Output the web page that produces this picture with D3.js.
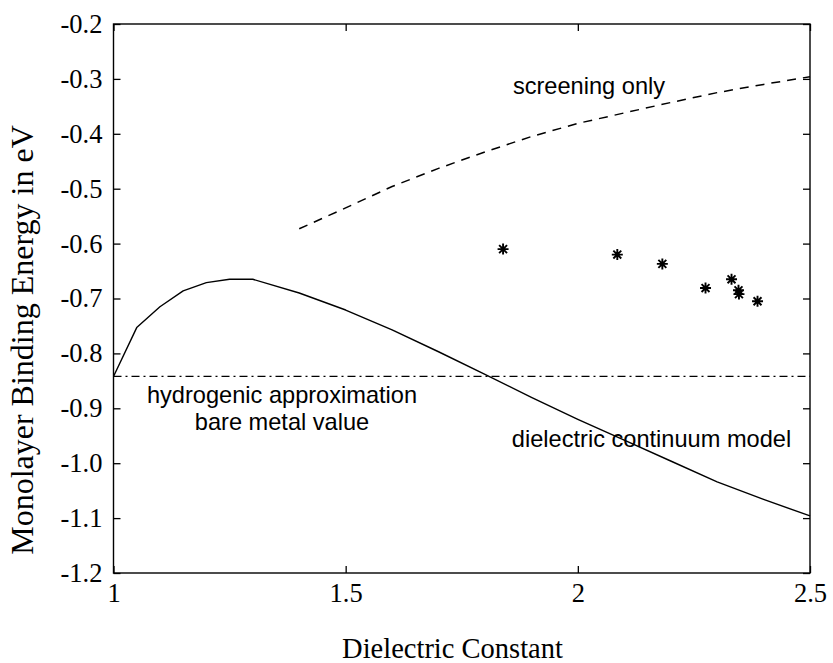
<!DOCTYPE html>
<html>
<head>
<meta charset="utf-8">
<script src="https://cdn.jsdelivr.net/npm/d3@7"></script>
<style>
  html, body { margin: 0; padding: 0; background: #fff; }
  svg { display: block; }
</style>
</head>
<body>
<svg id="chart" width="833" height="663"></svg>
<script>
// Dielectric continuum model (solid curve)
const continuumX = [1.0, 1.05, 1.1, 1.15, 1.2, 1.25, 1.3, 1.4, 1.5, 1.6, 1.7, 1.8, 1.9, 2.0, 2.1, 2.2, 2.3, 2.4, 2.5];
const continuumY = [-0.842, -0.753, -0.715, -0.686, -0.671, -0.665, -0.665, -0.690, -0.721, -0.757, -0.797, -0.838, -0.880, -0.920, -0.958, -0.996, -1.034, -1.066, -1.096];

// Screening only (dashed curve)
const screeningX = [1.4, 1.5, 1.6, 1.7, 1.8, 1.9, 2.0, 2.1, 2.2, 2.3, 2.4, 2.5];
const screeningY = [-0.573, -0.535, -0.496, -0.463, -0.433, -0.405, -0.381, -0.362, -0.343, -0.325, -0.310, -0.296];

// Hydrogenic approximation, bare metal value (dash-dot line)
const bareMetalValue = -0.842;

// Measured monolayer binding energies (stars)
const measuredX = [1.839, 2.085, 2.182, 2.275, 2.331, 2.346, 2.347, 2.387];
const measuredY = [-0.610, -0.620, -0.637, -0.681, -0.665, -0.685, -0.692, -0.705];

// Axis ticks
const xTicks = [1, 1.5, 2, 2.5];
const xTickLabels = ["1", "1.5", "2", "2.5"];
const yTicks = [-0.2, -0.3, -0.4, -0.5, -0.6, -0.7, -0.8, -0.9, -1.0, -1.1, -1.2];
const yTickLabels = ["-0.2", "-0.3", "-0.4", "-0.5", "-0.6", "-0.7", "-0.8", "-0.9", "-1.0", "-1.1", "-1.2"];

const svg = d3.select("#chart");
const plotLeft = 113.5, plotRight = 810, plotTop = 24, plotBottom = 573;

const x = d3.scaleLinear().domain([1, 2.5]).range([plotLeft, plotRight]);
const y = d3.scaleLinear().domain([-1.2, -0.2]).range([plotBottom, plotTop]);

const serif = "'Liberation Serif', 'Times New Roman', Times, serif";
const sans = "'Liberation Sans', Arial, Helvetica, sans-serif";
const tickLen = 7;

// Axes with inward ticks on all four sides
const xAxisB = d3.axisBottom(x).tickValues(xTicks)
  .tickFormat((d, i) => xTickLabels[i]).tickSizeInner(-tickLen).tickSizeOuter(0).tickPadding(10.5);
const xAxisT = d3.axisTop(x).tickValues(xTicks).tickFormat("").tickSizeInner(-tickLen).tickSizeOuter(0);
const yAxisL = d3.axisLeft(y).tickValues(yTicks)
  .tickFormat((d, i) => yTickLabels[i]).tickSizeInner(-tickLen).tickSizeOuter(0).tickPadding(11);
const yAxisR = d3.axisRight(y).tickValues(yTicks).tickFormat("").tickSizeInner(-tickLen).tickSizeOuter(0);

function styleAxis(g) {
  g.select(".domain").remove();
  g.selectAll(".tick line").attr("stroke", "#000").attr("stroke-width", 1.3);
  g.selectAll(".tick text").attr("fill", "#000")
    .style("font-family", serif).style("font-size", "26.5px");
}

svg.append("g").attr("transform", `translate(0,${plotBottom})`).call(xAxisB).call(styleAxis);
svg.append("g").attr("transform", `translate(0,${plotTop})`).call(xAxisT).call(styleAxis);
svg.append("g").attr("transform", `translate(${plotLeft},0)`).call(yAxisL).call(styleAxis);
svg.append("g").attr("transform", `translate(${plotRight},0)`).call(yAxisR).call(styleAxis);

// Plot frame
svg.append("rect")
  .attr("x", plotLeft).attr("y", plotTop)
  .attr("width", plotRight - plotLeft).attr("height", plotBottom - plotTop)
  .attr("fill", "none").attr("stroke", "#000").attr("stroke-width", 1.4);

const line = d3.line().x(d => x(d[0])).y(d => y(d[1]));

// Dash-dot reference line
svg.append("path")
  .datum([[1, bareMetalValue], [2.5, bareMetalValue]])
  .attr("d", line)
  .attr("fill", "none").attr("stroke", "#000").attr("stroke-width", 1.3)
  .attr("stroke-dasharray", "8,4,2,4");

// Continuum model
svg.append("path")
  .datum(continuumX.map((v, i) => [v, continuumY[i]]))
  .attr("d", line)
  .attr("fill", "none").attr("stroke", "#000").attr("stroke-width", 1.4)
  .attr("stroke-linejoin", "round");

// Screening only
svg.append("path")
  .datum(screeningX.map((v, i) => [v, screeningY[i]]))
  .attr("d", line)
  .attr("fill", "none").attr("stroke", "#000").attr("stroke-width", 1.5)
  .attr("stroke-dasharray", "9,7");

// Star markers
const r = 5.5;
const starPath = `M${-r},0L${r},0M0,${-r}L0,${r}` +
  `M${-r * 0.72},${-r * 0.72}L${r * 0.72},${r * 0.72}M${-r * 0.72},${r * 0.72}L${r * 0.72},${-r * 0.72}`;
svg.append("g").selectAll("path")
  .data(measuredX.map((v, i) => [v, measuredY[i]]))
  .join("path")
  .attr("transform", d => `translate(${x(d[0])},${y(d[1])})`)
  .attr("d", starPath)
  .attr("fill", "none").attr("stroke", "#000").attr("stroke-width", 1.9);

// Curve annotations
const notes = [
  { text: "screening only", x: 589, y: 94 },
  { text: "hydrogenic approximation", x: 282, y: 403 },
  { text: "bare metal value", x: 282, y: 430 },
  { text: "dielectric continuum model", x: 651.5, y: 446.5 }
];
svg.append("g").selectAll("text")
  .data(notes)
  .join("text")
  .attr("x", d => d.x).attr("y", d => d.y)
  .attr("text-anchor", "middle")
  .style("font-family", sans).style("font-size", "23.6px")
  .attr("fill", "#000")
  .text(d => d.text);

// Axis titles
svg.append("text")
  .attr("x", 452.5).attr("y", 658)
  .attr("text-anchor", "middle")
  .style("font-family", serif).style("font-size", "28.5px")
  .attr("fill", "#000")
  .text("Dielectric Constant");

svg.append("text")
  .attr("transform", "translate(33,340) rotate(-90)")
  .attr("text-anchor", "middle")
  .style("font-family", serif).style("font-size", "32px")
  .attr("fill", "#000")
  .text("Monolayer Binding Energy in eV");
</script>
</body>
</html>
